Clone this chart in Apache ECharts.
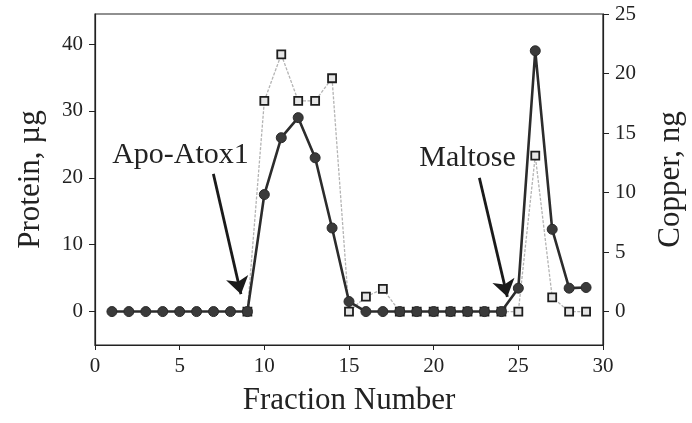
<!DOCTYPE html>
<html>
<head>
<meta charset="utf-8">
<script src="https://cdn.jsdelivr.net/npm/echarts@6/dist/echarts.min.js"></script>
<style>
  html, body { margin: 0; padding: 0; background: #fff; }
  #chart { width: 692px; height: 423px; }
</style>
</head>
<body>
<div id="chart"></div>
<script>
// Fraction numbers collected from the column
const fractions = [1,2,3,4,5,6,7,8,9,10,11,12,13,14,15,16,17,18,19,20,21,22,23,24,25,26,27,28,29];

// Protein per fraction (µg, left axis)
const protein = [0,0,0,0,0,0,0,0,0,17.5,26,29,23,12.5,1.5,0,0,0,0,0,0,0,0,0,3.5,39,12.3,3.5,3.6];

// Copper per fraction (ng, right axis); fractions 1-8 not measured
const copper = [null,null,null,null,null,null,null,null,0,17.7,21.6,17.7,17.7,19.6,0,1.25,1.9,0,0,0,0,0,0,0,0,13.1,1.2,0,0];

// Tick labels
const xTicks = [0,5,10,15,20,25,30];
const proteinTicks = [0,10,20,30,40];
const copperTicks = [0,5,10,15,20,25];

// Peak labels: [text, x, y] in fraction / protein units, with arrow start and tip
const peakLabels = [
  ['Apo-Atox1', 5.05, 23.4],
  ['Maltose', 22.0, 22.9]
];
const peakArrows = [
  [[6.99, 20.6], [8.62, 2.6]],
  [[22.7, 20.0], [24.35, 2.2]]
];

const proteinMin = -5, proteinMax = 44.5;
const copperMax = 25;
const copperMin = copperMax * proteinMin / proteinMax;

const serif = '"Liberation Serif", "DejaVu Serif", serif';
const ink = '#222';

const chart = echarts.init(document.getElementById('chart'), null, { renderer: 'canvas' });

const axisText = { fontFamily: serif, fontSize: 21, color: ink };
const nameText = { fontFamily: serif, fontSize: 31, color: ink };

chart.setOption({
  animation: false,
  backgroundColor: '#fff',
  grid: {
    left: 95, right: 89, top: 14, bottom: 78,
    outerBoundsMode: 'none',
    show: true, borderColor: ink, borderWidth: 1.2, backgroundColor: 'transparent'
  },
  xAxis: {
    type: 'value', min: xTicks[0], max: xTicks[xTicks.length - 1], interval: 5,
    name: 'Fraction Number', nameLocation: 'middle', nameGap: 40, nameTextStyle: nameText,
    axisLine: { onZero: false, lineStyle: { color: ink, width: 1.2 } },
    axisTick: { inside: false, length: 5, lineStyle: { color: ink } },
    axisLabel: Object.assign({ margin: 11 }, axisText),
    splitLine: { show: false }
  },
  yAxis: [
    {
      type: 'value', min: proteinMin, max: proteinMax, position: 'left',
      name: 'Protein, µg', nameLocation: 'middle', nameGap: 49, nameTextStyle: nameText,
      axisLine: { show: true, onZero: false, lineStyle: { color: ink, width: 1.2 } },
      axisTick: { show: true, length: 6, customValues: proteinTicks, lineStyle: { color: ink } },
      axisLabel: Object.assign({ margin: 12, customValues: proteinTicks }, axisText),
      splitLine: { show: false }
    },
    {
      type: 'value', min: copperMin, max: copperMax, position: 'right',
      name: 'Copper, ng', nameLocation: 'middle', nameGap: 52, nameTextStyle: nameText,
      axisLine: { show: true, onZero: false, lineStyle: { color: ink, width: 1.2 } },
      axisTick: { show: true, length: 6, customValues: copperTicks, lineStyle: { color: ink } },
      axisLabel: Object.assign({ margin: 12, customValues: copperTicks }, axisText),
      splitLine: { show: false }
    }
  ],
  series: [
    {
      name: 'Copper', type: 'line', yAxisIndex: 1, z: 2,
      data: fractions.map((f, i) => [f, copper[i]]),
      connectNulls: false,
      lineStyle: { color: '#b4b4b4', width: 1.3, type: [3, 1.5] },
      symbol: 'rect', symbolSize: 8,
      itemStyle: { color: '#e6e6e6', borderColor: '#1e1e1e', borderWidth: 1.8 }
    },
    {
      name: 'Protein', type: 'line', yAxisIndex: 0, z: 3,
      data: fractions.map((f, i) => [f, protein[i]]),
      lineStyle: { color: '#2c2c2c', width: 2.6 },
      symbol: 'circle', symbolSize: 10,
      itemStyle: { color: '#3a3a3a', borderColor: '#2a2a2a', borderWidth: 1 },
      markLine: {
        silent: true, animation: false,
        symbol: ['none', 'arrow'], symbolSize: 17,
        label: { show: false },
        lineStyle: { color: '#1a1a1a', width: 2.8, type: 'solid' },
        itemStyle: { color: '#1a1a1a' },
        emphasis: { disabled: true },
        data: peakArrows.map(a => [{ coord: a[0] }, { coord: a[1] }])
      },
      markPoint: {
        silent: true, animation: false,
        symbol: 'circle', symbolSize: 0,
        label: {
          show: true, position: 'inside',
          fontFamily: serif, fontSize: 30, color: ink,
          formatter: p => p.name
        },
        data: peakLabels.map(l => ({ name: l[0], coord: [l[1], l[2]] }))
      }
    }
  ]
});
</script>
</body>
</html>
